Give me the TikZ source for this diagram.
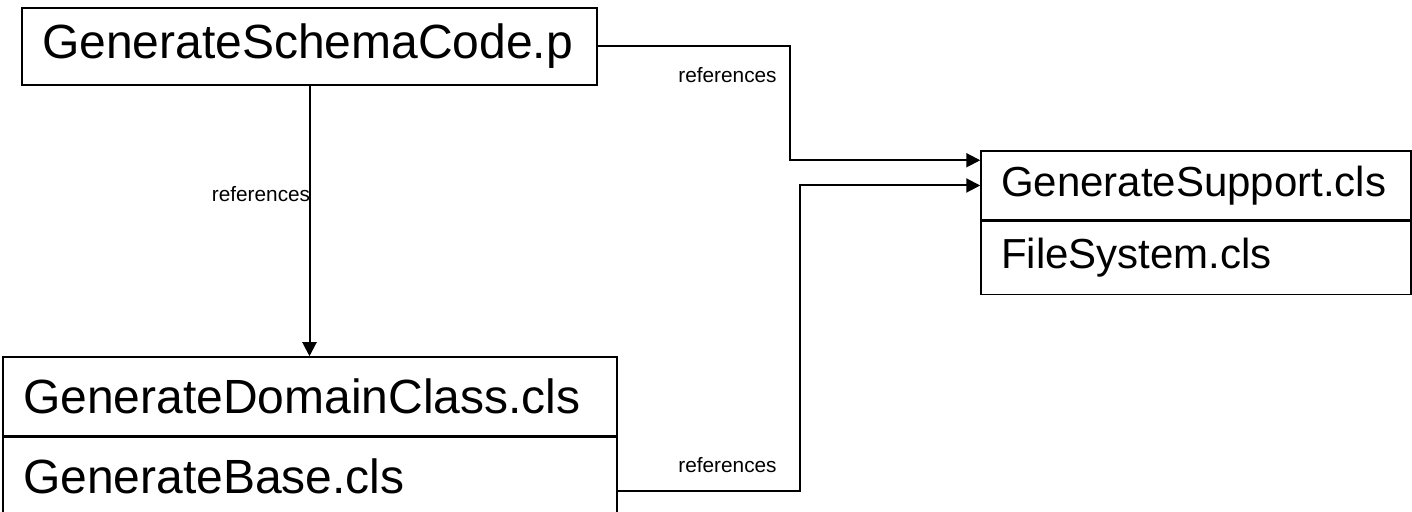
\documentclass[tikz,border=0pt]{standalone}
\usepackage{fontspec}
\setmainfont{Liberation Sans}
\usepackage{tikz}
\usetikzlibrary{arrows.meta,positioning}

\begin{document}
\begin{tikzpicture}[
  x=0.5pt,y=-0.5pt,
  >={Triangle[length=7pt,width=7pt]},
  node distance=0pt,
  clsbox/.style={draw,line width=0.75pt,inner xsep=10pt,inner ysep=0pt,
                 align=left,text width=#1,
                 font=\fontsize{24}{28}\selectfont},
  smallcls/.style={font=\fontsize{21}{25}\selectfont},
  reflink/.style={->,line width=1pt},
  reflabel/.style={anchor=base,font=\fontsize{10.4}{12}\selectfont}
]
\useasboundingbox (0,0) rectangle (1412,512);

% ---- script ----
\node[clsbox=267.5pt,minimum height=38.5pt] (schema) at (309.5,46.5) {GenerateSchemaCode.p};

% ---- domain classes ----
\node[clsbox=287pt,minimum height=39.5pt] (domain) at (310,396.5) {GenerateDomainClass.cls};
\node[clsbox=287pt,minimum height=38.5pt,below=of domain] (base) {GenerateBase.cls};

% ---- support classes ----
\node[clsbox=195pt,smallcls,minimum height=34.5pt] (support) at (1196,185.5) {GenerateSupport.cls};
\node[clsbox=195pt,smallcls,minimum height=36.5pt,below=of support] (filesys) {FileSystem.cls};

% ---- references ----
\draw[reflink] (schema.south) -- (schema.south |- domain.north);
\draw[reflink] (schema.east) -- ++(96pt,0) |- ([yshift=-5pt]support.north west);
\draw[reflink] ([yshift=-7.5pt]base.east) -- ++(91pt,0) |- (support.west);

\node[reflabel] (lbl1) at (261,202)   {references};
\node[reflabel] (lbl2) at (727.5,83)  {references};
\node[reflabel] (lbl3) at (727.5,473) {references};

\end{tikzpicture}
\end{document}
